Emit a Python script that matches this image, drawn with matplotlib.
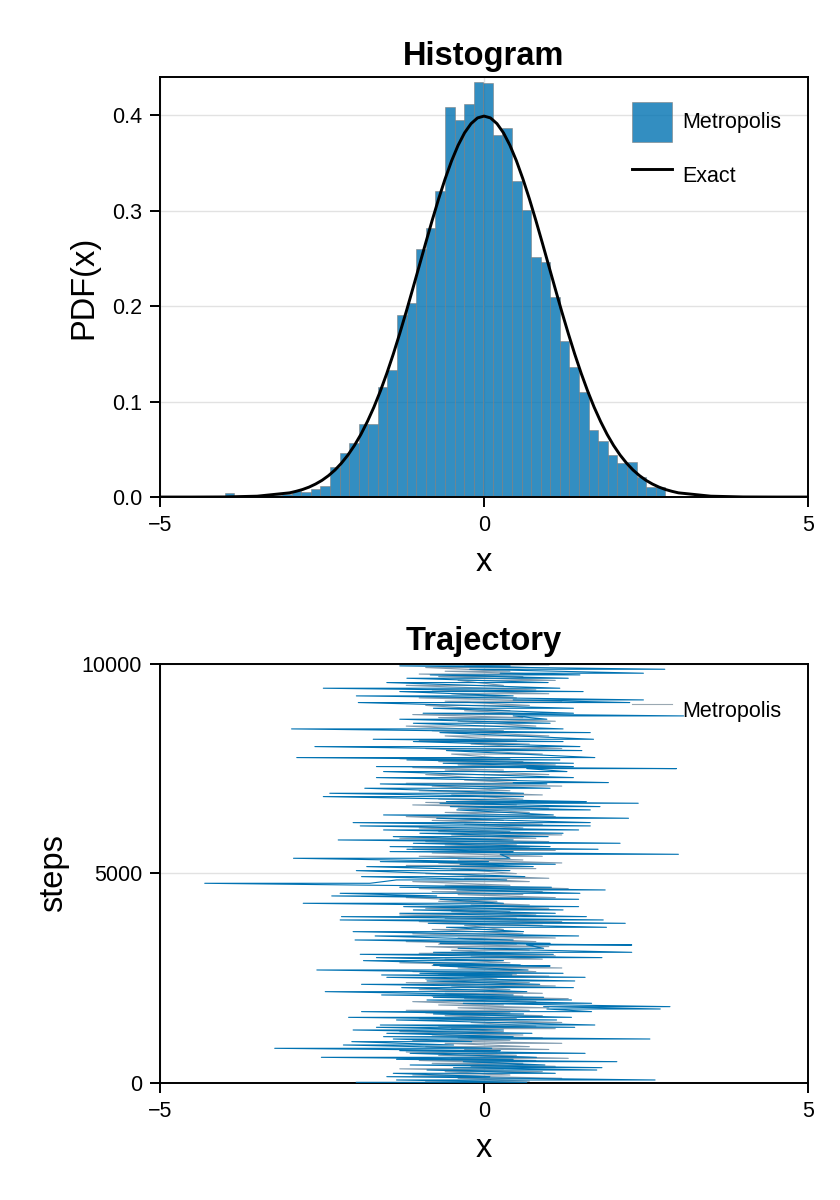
import numpy as np
import matplotlib
matplotlib.use("Agg")
import matplotlib.pyplot as plt

plt.rcParams['font.family'] = ['Liberation Sans', 'DejaVu Sans']

BLUE = '#0072B2'

# histogram of the chain (density per bin), bins start at -4.002, width 0.1478
bin_start = -4.002
bin_width = 0.1478
hist_density = [
    0.004, 0.0, 0.0007, 0.0, 0.0007, 0.002, 0.003, 0.0066, 0.0056, 0.008,
    0.0112, 0.031, 0.0457, 0.057, 0.0768, 0.0768, 0.1152, 0.133, 0.191, 0.2028,
    0.2597, 0.2813, 0.3205, 0.4087, 0.3948, 0.4115, 0.435, 0.4332, 0.379, 0.386,
    0.331, 0.301, 0.2517, 0.246, 0.209, 0.1636, 0.1363, 0.11, 0.0702, 0.0586,
    0.0445, 0.0356, 0.0363, 0.0213, 0.0103, 0.0103, 0.0014,
]

# exact curve
exact_x = [-5.0, -4.5, -4.0, -3.5, -3.0, -2.9, -2.8, -2.7, -2.6, -2.5, -2.4, -2.3, -2.2, -2.1,
           -2.0, -1.9, -1.8, -1.7, -1.6, -1.5, -1.4, -1.3, -1.2, -1.1, -1.0, -0.9, -0.8,
           -0.7, -0.6, -0.5, -0.4, -0.3, -0.2, -0.1, 0.0, 0.1, 0.2, 0.3, 0.4, 0.5, 0.6,
           0.7, 0.8, 0.9, 1.0, 1.1, 1.2, 1.3, 1.4, 1.5, 1.6, 1.7, 1.8, 1.9, 2.0, 2.1,
           2.2, 2.3, 2.4, 2.5, 2.6, 2.7, 2.8, 2.9, 3.0, 3.5, 4.0, 4.5, 5.0]
exact_y = [0.0, 0.0, 0.0001, 0.0009, 0.0044, 0.0060, 0.0079, 0.0104, 0.0136, 0.0175, 0.0224,
           0.0283, 0.0355, 0.0440, 0.0540, 0.0656, 0.0790, 0.0940, 0.1109, 0.1295, 0.1497,
           0.1714, 0.1942, 0.2179, 0.2420, 0.2661, 0.2897, 0.3123, 0.3332, 0.3521, 0.3683,
           0.3814, 0.3910, 0.3970, 0.3989, 0.3970, 0.3910, 0.3814, 0.3683, 0.3521, 0.3332,
           0.3123, 0.2897, 0.2661, 0.2420, 0.2179, 0.1942, 0.1714, 0.1497, 0.1295, 0.1109,
           0.0940, 0.0790, 0.0656, 0.0540, 0.0440, 0.0355, 0.0283, 0.0224, 0.0175, 0.0136,
           0.0104, 0.0079, 0.0060, 0.0044, 0.0009, 0.0001, 0.0, 0.0]

# trajectory: swings of the chain (step, lowest x, highest x), read bottom to top
traj_step = [
    16, 72, 151, 231, 310, 366, 430, 509, 565, 613, 708, 772, 828, 907, 987,
    1050, 1106, 1186, 1265, 1329, 1384, 1504, 1567, 1647, 1703, 1766, 1822, 1902, 1981, 2045,
    2101, 2180, 2276, 2355, 2435, 2522, 2578, 2618, 2697, 2793, 2817, 2920, 2992, 3071, 3119,
    3215, 3294, 3334,
    3413, 3509, 3612, 3716, 3811, 3891, 3970, 4050, 4130, 4209, 4289, 4384, 4464, 4527, 4607,
    4671, 4766, 4846, 4925, 5068, 5164, 5220, 5283, 5363, 5458, 5522, 5578, 5641, 5721, 5800,
    5880, 5960, 6039, 6135, 6214, 6318, 6397, 6517, 6596, 6676, 6715,
    6835, 6914, 7034, 7137, 7169, 7288, 7432, 7503, 7551, 7630, 7710, 7766, 7933, 8028, 8148,
    8203, 8362, 8450, 8585, 8681, 8760, 8824, 8943, 9079, 9142, 9238, 9341, 9421, 9556, 9659,
    9739, 9779, 9874, 9954,
]
traj_lo = [
    -1.97, -1.35, -1.50, -1.40, -0.88, -0.47, -1.14, -0.32, -1.35, -2.51, -1.14, -1.30, -3.23, -2.17, -2.04,
    -1.40, -1.55, -1.50, -2.02, -1.66, -1.60, -1.35, -2.09, -0.78, -1.89, 0.97, 0.92, -0.32, -0.88, -0.78,
    -1.58, -2.45, -1.27, -1.89, -0.88, -1.50, -1.58, -0.99, -2.58, -0.68, -0.78, -1.86, -1.66, -1.91, -0.78,
    -0.40, 0.66, -0.68,
    -1.99, -1.68, -2.02, -0.58, -0.86, -2.22, -2.20, -1.30, -1.09, -1.24, -2.79, -0.68, -2.35, -2.22, -0.42,
    -1.30, -4.31, -1.35, -1.89, -1.97, -1.81, -0.37, -1.60, -2.94, 0.25, -1.45, -1.19, -1.45, -1.09, -2.25,
    -1.40, -0.99, -1.55, -1.91, -2.02, -0.73, -1.55, -0.42, -0.52, -0.68, -0.58,
    -2.48, -2.38, -1.84, -1.60, 0.45, -1.66, -1.55, 0.66, -1.66, -0.63, -1.19, -2.89, -0.58, -2.61, -1.09,
    -1.71, -0.68, -2.97, -1.09, -1.30, 0.45, -0.94, -0.78, -1.94, 0.45, -1.97, -1.30, -2.48, -1.50, -1.19,
    -0.83, 0.25, -0.22, -1.30,
]
traj_hi = [
    0.66, 2.64, 0.09, 1.10, 1.74, 1.82, 0.94, 2.05, 0.45, 0.81, 1.56, 0.25, 0.12, -0.47, -0.19,
    2.56, 0.45, 0.74, 0.30, 1.40, 1.71, 1.12, 1.35, 0.61, 1.66, 2.72, 2.87, 1.66, 1.35, 0.92,
    0.45, 0.66, 1.38, 0.86, 1.40, 1.56, 0.43, 1.22, 0.68, 1.02, 0.56, 0.30, 1.82, 1.07, 2.28,
    0.92, 2.28, 1.02,
    0.45, 1.46, 0.61, 1.89, 2.18, 1.84, 1.58, 1.10, 1.22, 1.46, 0.30, 1.46, -0.73, 1.48, 1.87,
    1.04, -1.76, 0.35, 0.63, 0.40, 0.76, 1.10, 0.07, 0.40, 3.00, 0.45, 1.76, 1.02, 2.10, 0.45,
    0.99, 1.22, 1.46, 1.64, 1.64, 2.23, 1.07, 1.64, 1.79, 2.38, 1.58,
    0.61, 0.61, 1.02, 0.97, 1.92, 1.38, 1.28, 2.97, 1.38, 1.38, 1.17, 1.71, 1.51, 1.48, 1.22,
    1.69, 1.64, 1.22, 1.02, 0.97, 3.08, 1.38, 1.38, 2.25, 2.46, 0.45, 1.53, 1.17, 0.99, 1.30,
    1.48, 2.46, 2.79, 0.40,
]
# shorter swings in the dense core, between the wide ones (estimated)
core_lo = [
    -0.9, -0.4, -1.1, -0.6, -1.3, -0.2, -0.8, -1.0, -0.5, -0.7,
    -1.2, -0.3, -0.9, -0.6, -1.1, -0.4, -0.8, -1.3, -0.5, -0.7,
    -0.2, -1.0, -0.6, -0.9, -1.2, -0.4, -0.7, -1.1, -0.3, -0.8,
    -0.6, -1.0, -0.5, -1.2, -0.9, -0.3, -0.7, -1.1, -0.4, -0.8,
    -1.3, -0.6, -0.2, -1.0, -0.5, -0.9, -0.7, -1.2,
    -0.4, -1.1, -0.8, -0.3, -1.0, -0.6, -1.3, -0.5, -0.9, -0.2,
    -0.7, -1.2, -0.4, -0.8, -1.0, -0.6, -1.1, -0.3, -0.9, -0.5,
    -1.2, -0.7, -0.4, -1.0, -0.8, -0.2, -1.1, -0.6, -0.9, -1.3,
    -0.5, -0.7, -1.0, -0.3, -0.8, -1.2, -0.6, -0.4, -1.1, -0.9, -0.7,
    -0.5, -1.0, -0.8, -1.2, -0.3, -0.9, -0.6, -1.1, -0.4, -0.7,
    -1.3, -0.5, -0.9, -0.2, -1.0, -0.6, -0.8, -1.2, -0.4, -0.7,
    -1.1, -0.3, -0.9, -0.6, -1.0, -0.5, -0.8, -1.2, -0.4, -0.7,
    -1.0, -0.6, -0.9, -0.3,
]
core_hi = [
    0.7, 1.2, 0.4, 0.9, 0.3, 1.1, 0.6, 0.8, 1.3, 0.5,
    0.2, 1.0, 0.7, 1.2, 0.4, 0.9, 0.6, 0.3, 1.1, 0.8,
    1.2, 0.5, 0.9, 0.4, 0.7, 1.0, 0.3, 0.8, 1.3, 0.6,
    0.9, 0.4, 1.1, 0.7, 0.2, 1.0, 0.5, 0.8, 1.2, 0.6,
    0.4, 0.9, 1.1, 0.3, 0.7, 1.0, 0.5, 0.8,
    1.1, 0.6, 0.3, 0.9, 1.2, 0.5, 0.8, 0.4, 1.0, 0.7,
    0.2, 1.1, 0.6, 0.9, 1.3, 0.4, 0.7, 1.0, 0.5, 0.8,
    0.3, 1.2, 0.6, 0.9, 0.4, 1.1, 0.7, 0.5, 1.0, 0.8,
    1.2, 0.4, 0.6, 0.9, 0.3, 1.1, 0.7, 1.0, 0.5, 0.8, 0.6,
    0.9, 0.4, 1.2, 0.7, 0.5, 1.0, 0.3, 0.8, 1.1, 0.6,
    0.4, 0.9, 1.2, 0.7, 0.5, 1.0, 0.3, 0.8, 1.1, 0.6,
    0.9, 0.4, 0.7, 1.2, 0.5, 1.0, 0.8, 0.3, 1.1, 0.6,
    0.9, 0.4, 0.7, 1.0,
]


def style_axes(ax):
    ax.set_xlim(-5, 5)
    ax.set_xticks([-5, 0, 5])
    ax.grid(True, color='#e2e2e2', lw=1.0, zorder=0)
    ax.set_axisbelow(True)
    for s in ax.spines.values():
        s.set_linewidth(1.4)
    ax.tick_params(axis='both', which='major', direction='out', length=7, width=1.4,
                   labelsize=15.5, pad=6, top=False, right=False)


leg_kw = dict(loc='upper left', frameon=False, fontsize=15.5, handlelength=1.84,
              handleheight=2.45, handletextpad=0.5, labelspacing=0.67,
              borderpad=0, borderaxespad=0)

fig = plt.figure(figsize=(8.4, 12), dpi=100)

# --- Histogram ---
ax = fig.add_axes([0.1905, 0.5858, 0.7714, 0.35])
edges = bin_start + bin_width * np.arange(len(hist_density) + 1)
bars = ax.bar(edges[:-1], hist_density, width=bin_width, align='edge', color=BLUE, alpha=0.8,
              edgecolor='#808080', linewidth=0.5, zorder=2)
line, = ax.plot(exact_x, exact_y, color='black', lw=2.1, zorder=3)
style_axes(ax)
ax.set_ylim(0, 0.4398)
ax.set_yticks([0.0, 0.1, 0.2, 0.3, 0.4])
ax.set_yticklabels(['0.0', '0.1', '0.2', '0.3', '0.4'])
ax.set_title('Histogram', fontsize=23.5, fontweight='bold', pad=9)
ax.set_xlabel('x', fontsize=23.5, labelpad=8)
ax.set_ylabel('PDF(x)', fontsize=23.5)
ax.yaxis.set_label_coords(-0.093, 0.5)
ax.legend([bars, line], ['Metropolis', 'Exact'], bbox_to_anchor=(0.7284, 0.9405), **leg_kw)

# --- Trajectory ---
ax = fig.add_axes([0.1905, 0.0975, 0.7714, 0.3492])
wide_x, wide_y, core_x, core_y = [], [], [], []
for i, s in enumerate(traj_step):
    s_next = traj_step[i + 1] if i + 1 < len(traj_step) else min(s + 80, 10000)
    mid = 0.5 * (s + s_next)
    wide_x += [traj_lo[i], traj_hi[i]]
    wide_y += [s, s]
    core_x += [core_lo[i], core_hi[i]]
    core_y += [mid, mid]
ax.plot(core_x, core_y, color='#7f9bb0', lw=0.8, zorder=2)
traj_line, = ax.plot(wide_x, wide_y, color=BLUE, lw=0.8, zorder=3)
style_axes(ax)
ax.set_ylim(0, 10000)
ax.set_yticks([0, 5000, 10000])
ax.set_title('Trajectory', fontsize=23.5, fontweight='bold', pad=10)
ax.set_xlabel('x', fontsize=23.5, labelpad=8)
ax.set_ylabel('steps', fontsize=23.5)
ax.yaxis.set_label_coords(-0.14, 0.5)
leg = ax.legend([traj_line], ['Metropolis'], bbox_to_anchor=(0.7284, 0.9355), **leg_kw)
leg.get_lines()[0].set_color('#9aa8b2')

fig.savefig('out.png', dpi=100)
